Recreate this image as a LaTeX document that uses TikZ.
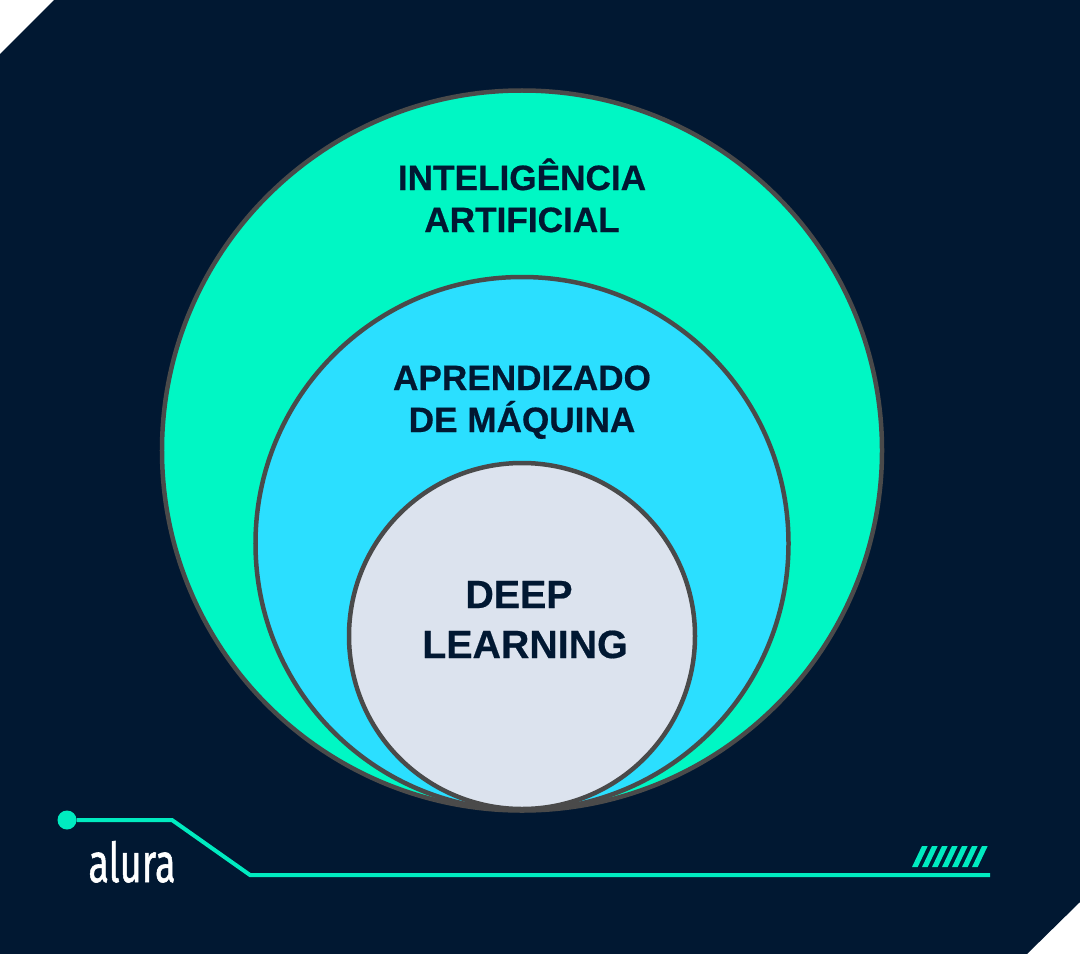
\documentclass[tikz,border=0pt]{standalone}
\usepackage{fontspec}
\setmainfont[BoldFeatures={FakeBold=0.5}]{Liberation Sans}
\newfontfamily\logofont[FakeBold=1.2]{Fira Sans}
\usepackage{tikz}
\usetikzlibrary{positioning}
\definecolor{navybg}{HTML}{011832}
\definecolor{aquagreen}{HTML}{00F7C4}
\definecolor{skyblue}{HTML}{2BDFFF}
\definecolor{paleblue}{HTML}{DCE3EE}
\definecolor{ringgray}{HTML}{4A4A4A}
\definecolor{tracegreen}{HTML}{00EBC0}
\tikzset{
  ring/.style={draw=ringgray,line width=4.5bp,circle,inner sep=0pt,outer sep=0pt},
  ringlabel/.style={text=navybg,align=center,font=\bfseries\fontsize{#1}{#1}\selectfont,inner sep=0pt,anchor=base},
  trace/.style={draw=tracegreen,line width=4bp,line join=miter},
}
\begin{document}
\begin{tikzpicture}[x=1bp,y=-1bp]
\useasboundingbox (0,0) rectangle (1080,954);
%%
\fill[white] (0,0) rectangle (1080,954);
\fill[navybg] (54,0) -- (1080,0) -- (1080,902) -- (1027,954) -- (0,954) -- (0,54) -- cycle;
%%
\node (ia) at (522,450.5) [ring,fill=aquagreen,minimum size=720bp] {};
\node (ml) at (522,543.5) [ring,fill=skyblue,minimum size=533bp] {};
\node (dl) at (522,636) [ring,fill=paleblue,minimum size=346bp] {};
%%
\node (ia1) at (522,190) [ringlabel=35.3] {INTELIGÊNCIA};
\node (ia2) at (522,232) [ringlabel=35.3] {ARTIFICIAL};
\node (ml1) at (522,390) [ringlabel=35.3] {APRENDIZADO};
\node (ml2) at (522,432) [ringlabel=35.3] {DE MÁQUINA};
\node (dl1) at (519,608) [ringlabel=39.5] {DEEP};
\node (dl2) at (525,658) [ringlabel=39.5] {LEARNING};
%%
\node (dot) at (67,820) [circle,fill=tracegreen,inner sep=0pt,minimum size=19bp] {};
\coordinate (bend1) at (172,820);
\coordinate (bend2) at (250,875);
\coordinate (lineend) at (990,875);
\draw[trace] (dot) -- (bend1) -- (bend2) -- (lineend);
\node (logo) at (132,882) [anchor=base,text=white,inner sep=0pt,font=\logofont\fontsize{55}{55}\selectfont] {\scalebox{0.69}[1]{alura}};
%%
\foreach \i in {0,...,6}
  \fill[tracegreen] (912+10*\i,867) -- (917.7+10*\i,867) -- (927.7+10*\i,846) -- (922+10*\i,846) -- cycle;
%
\end{tikzpicture}
\end{document}
